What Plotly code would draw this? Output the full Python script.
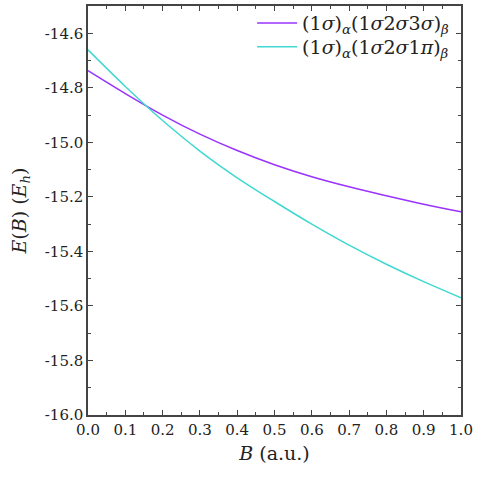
import plotly.graph_objects as go

B = [0.0, 0.1, 0.2, 0.3, 0.4, 0.5, 0.6, 0.7, 0.8, 0.9, 1.0]
E_sigma = [-14.737, -14.821, -14.900, -14.970, -15.030, -15.082, -15.126, -15.163, -15.196, -15.227, -15.255]
E_pi = [-14.661, -14.795, -14.920, -15.032, -15.130, -15.217, -15.300, -15.377, -15.447, -15.511, -15.570]

name_sigma = "(1<i>σ</i>)<sub><i>α</i></sub>(1<i>σ</i>2<i>σ</i>3<i>σ</i>)<sub><i>β</i></sub>"
name_pi = "(1<i>σ</i>)<sub><i>α</i></sub>(1<i>σ</i>2<i>σ</i>1<i>π</i>)<sub><i>β</i></sub>"

x_ticks = [0.0, 0.1, 0.2, 0.3, 0.4, 0.5, 0.6, 0.7, 0.8, 0.9, 1.0]
y_ticks = [-16.0, -15.8, -15.6, -15.4, -15.2, -15.0, -14.8, -14.6]

font_family = "DejaVu Serif"
axis_color = "#444444"
text_color = "#222222"

fig = go.Figure()
fig.add_trace(go.Scatter(x=B, y=E_sigma, mode="lines", name=name_sigma, legend="legend",
                         line=dict(color="#9933ff", width=1.5, shape="spline")))
fig.add_trace(go.Scatter(x=B, y=E_pi, mode="lines", name=name_pi, legend="legend2",
                         line=dict(color="#40d8d0", width=1.5, shape="spline")))

common = dict(showgrid=False, zeroline=False, showline=True, linecolor=axis_color,
              linewidth=1.5, mirror="ticks", ticks="inside", ticklen=5, tickwidth=1.2,
              tickcolor=axis_color, tickfont=dict(family=font_family, size=15, color=text_color))

fig.update_xaxes(range=[0, 1], tickvals=x_ticks, ticktext=[f"{v:.1f}" for v in x_ticks],
                 minor=dict(dtick=0.05, ticks="inside", ticklen=3, tickcolor=axis_color),
                 title=dict(text="<i>B</i> (a.u.)", font=dict(family=font_family, size=19, color=text_color), standoff=9),
                 **common)
fig.update_yaxes(range=[-16.0, -14.5], tickvals=y_ticks, ticktext=[f"{v:.1f}" for v in y_ticks],
                 minor=dict(dtick=0.1, ticks="inside", ticklen=3, tickcolor=axis_color),
                 title=dict(text="<i>E</i>(<i>B</i>) (<i>E<sub>h</sub></i>)", font=dict(family=font_family, size=19, color=text_color), standoff=13),
                 **common)

legend_common = dict(xanchor="left", yanchor="middle", bgcolor="rgba(0,0,0,0)",
                     font=dict(family=font_family, size=19, color=text_color),
                     itemwidth=40)

fig.update_layout(
    width=478, height=478,
    margin=dict(l=88, r=17, t=4, b=63),
    plot_bgcolor="white", paper_bgcolor="white",
    showlegend=True,
    legend=dict(x=0.44, y=0.958, **legend_common),
    legend2=dict(x=0.44, y=0.9, **legend_common),
)

fig.write_html("out.html")
